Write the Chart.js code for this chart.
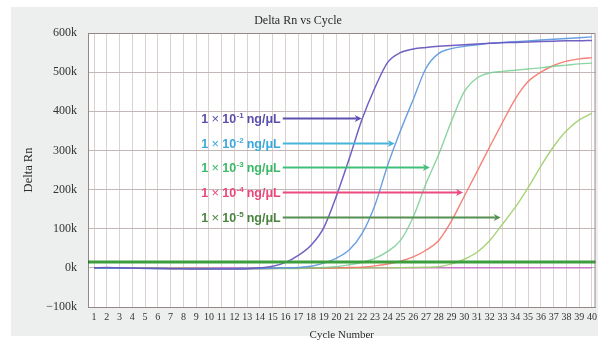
<!DOCTYPE html>
<html>
<head>
<meta charset="utf-8">
<script src="https://cdn.jsdelivr.net/npm/chart.js@4/dist/chart.umd.min.js"></script>
<style>
  html, body { margin: 0; padding: 0; background: #ffffff; }
  canvas { display: block; }
</style>
</head>
<body>
<canvas id="chart" width="601" height="350"></canvas>
<script>
// Amplification curves: Delta Rn per PCR cycle for a 10-fold dilution series
const cycles = [1, 2, 3, 4, 5, 6, 7, 8, 9, 10, 11, 12, 13, 14, 15, 16, 17, 18, 19, 20,
                21, 22, 23, 24, 25, 26, 27, 28, 29, 30, 31, 32, 33, 34, 35, 36, 37, 38, 39, 40];

const dil1 = [0, 1000, 0, -500, -1000, -1500, -2000, -2500, -3000, -3000, -3000, -3000, -2000, 0,
              4000, 14000, 32000, 58000, 103000, 185000, 280000, 380000, 460000, 525000, 550000,
              559000, 563000, 566000, 568000, 570000, 572000, 574000, 575000, 576000, 577000,
              578000, 579000, 580000, 580000, 581000];

const dil2 = [0, -1000, -1000, -1000, -1500, -1500, -2000, -2000, -2000, -2000, -2000, -2000, -1500,
              -1500, -1000, 0, 1000, 4000, 12000, 25000, 46000, 88000, 160000, 262000, 350000,
              430000, 510000, 548000, 560000, 566000, 570000, 574000, 576000, 578000, 580000,
              582000, 584000, 586000, 588000, 590000];

const dil3 = [0, -500, -1000, -1000, -1000, -1500, -1500, -1500, -2000, -2000, -2000, -2000, -1500,
              -1500, -1000, -1000, -500, 0, 1000, 3000, 8000, 14000, 24000, 42000, 70000, 130000,
              215000, 290000, 375000, 450000, 485000, 498000, 502000, 505000, 508000, 511000,
              515000, 518000, 521000, 523000];

const dil4 = [0, -500, -500, -1000, -1000, -1000, -1500, -1500, -1500, -2000, -2000, -2000, -2000,
              -1500, -1500, -1000, -1000, -500, -500, 0, 1000, 2000, 5000, 10000, 17000, 28000,
              45000, 70000, 120000, 183000, 246000, 310000, 372000, 432000, 476000, 500000,
              517000, 528000, 534000, 537000];

const dil5 = [0, -500, -500, -1000, -1000, -1000, -1500, -1500, -1500, -1500, -2000, -2000, -2000,
              -2000, -1500, -1500, -1500, -1000, -1000, -1000, -500, -500, 0, 0, 500, 1000, 1500,
              3000, 10000, 22000, 40000, 70000, 112000, 155000, 205000, 260000, 310000, 350000,
              378000, 395000];

const baseline = [0, 0, 0, 0, 0, 0, 0, 0, 0, 0, 0, 0, 0, 0, 0, 0, 0, 0, 0, 0,
                  0, 0, 0, 0, 0, 0, 0, 0, 0, 0, 0, 0, 0, 0, 0, 0, 0, 0, 0, 0];

const thresholdValue = 15000;

const yTicks = [-100000, 0, 100000, 200000, 300000, 400000, 500000, 600000];

// Dilution labels with arrows pointing at their curves
const labelExponents = [-1, -2, -3, -4, -5];
const labelValues = [384000, 319000, 258000, 194000, 130000];
const labelStartCycle = 9.4;
const arrowEndCycles = [21.97, 24.55, 27.3, 29.9, 32.85];
const labelColors = ['#5a4fab', '#3aa8da', '#3cb866', '#ea4679', '#4a843f'];
const arrowColors = ['#5c50b2', '#48b4dc', '#40bf78', '#ec4b80', '#54904f'];

const X_MIN = 0.53, X_MAX = 40.28;

const pts = arr => cycles.map((c, i) => ({ x: c, y: arr[i] }));

const curveStyle = (color, w) => ({
  borderColor: color, borderWidth: w, pointRadius: 0, fill: false,
  cubicInterpolationMode: 'monotone', order: 1
});

const panelPlugin = {
  id: 'panel',
  beforeDraw(chart) {
    const { ctx, chartArea: a } = chart;
    ctx.save();
    ctx.fillStyle = '#ffffff';
    ctx.fillRect(0, 0, chart.width, chart.height);
    ctx.fillStyle = '#edeeee';
    ctx.fillRect(11, 7, 587, 329);
    ctx.fillStyle = '#ffffff';
    ctx.fillRect(a.left, a.top, a.right - a.left, a.bottom - a.top);
    ctx.restore();
  },
  afterDraw(chart) {
    const { ctx, chartArea: a } = chart;
    ctx.save();
    ctx.strokeStyle = '#968686';
    ctx.lineWidth = 1;
    ctx.beginPath();
    ctx.moveTo(a.left, a.top + 0.5);
    ctx.lineTo(a.right - 0.5, a.top + 0.5);
    ctx.lineTo(a.right - 0.5, a.bottom);
    ctx.stroke();
    ctx.restore();
  }
};

function drawDilutionLabel(ctx, x, y, exp, color) {
  const big = 'bold 12.5px "Liberation Sans", Arial, sans-serif';
  const times = '13px "Liberation Sans", Arial, sans-serif';
  const small = 'bold 8px "Liberation Sans", Arial, sans-serif';
  ctx.fillStyle = color;
  ctx.textBaseline = 'middle';
  ctx.textAlign = 'left';
  ctx.font = big;
  ctx.fillText('1', x, y);
  x += ctx.measureText('1').width + 1;
  ctx.font = times;
  ctx.textAlign = 'center';
  ctx.fillText('\u00d7', x + 6, y);
  x += 13;
  ctx.textAlign = 'left';
  ctx.font = big;
  ctx.fillText('10', x, y);
  x += ctx.measureText('10').width + 0.5;
  ctx.font = small;
  const sup = '-' + Math.abs(exp);
  ctx.fillText(sup, x, y - 4);
  x += ctx.measureText(sup).width + 3;
  ctx.font = big;
  ctx.fillText('ng/\u03bcL', x, y);
  x += ctx.measureText('ng/\u03bcL').width;
  return x;
}

const labelPlugin = {
  id: 'dilutionLabels',
  afterDatasetsDraw(chart) {
    const { ctx, scales: { x, y } } = chart;
    ctx.save();
    labelExponents.forEach((exp, i) => {
      const py = Math.round(y.getPixelForValue(labelValues[i])) + 0.5;
      const startX = x.getPixelForValue(labelStartCycle);
      const textEnd = drawDilutionLabel(ctx, startX, py + 1, exp, labelColors[i]);
      const endX = x.getPixelForValue(arrowEndCycles[i]);
      ctx.strokeStyle = arrowColors[i];
      ctx.fillStyle = arrowColors[i];
      ctx.lineWidth = 2;
      ctx.beginPath();
      ctx.moveTo(textEnd + 2, py);
      ctx.lineTo(endX - 5, py);
      ctx.stroke();
      ctx.beginPath();
      ctx.moveTo(endX, py);
      ctx.lineTo(endX - 7, py - 3.5);
      ctx.lineTo(endX - 5, py);
      ctx.lineTo(endX - 7, py + 3.5);
      ctx.closePath();
      ctx.fill();
    });
    ctx.restore();
  }
};

const serif = '"Liberation Serif", "Times New Roman", serif';

new Chart(document.getElementById('chart'), {
  type: 'line',
  data: {
    datasets: [
      { label: 'threshold', data: [{ x: X_MIN, y: thresholdValue }, { x: X_MAX, y: thresholdValue }],
        borderColor: '#3c9e3c', borderWidth: 3, fill: false, order: 0,
        pointRadius: 1.8, pointStyle: 'rect', pointBackgroundColor: '#2f6a2f', pointBorderWidth: 0 },
      Object.assign({ label: '1\u00d710-1 ng/\u03bcL', data: pts(dil1) }, curveStyle('rgba(104,88,192,0.95)', 1.5)),
      Object.assign({ label: '1\u00d710-2 ng/\u03bcL', data: pts(dil2) }, curveStyle('rgba(88,150,222,0.9)', 1.4)),
      Object.assign({ label: '1\u00d710-3 ng/\u03bcL', data: pts(dil3) }, curveStyle('rgba(120,204,145,0.85)', 1.4)),
      Object.assign({ label: '1\u00d710-4 ng/\u03bcL', data: pts(dil4) }, curveStyle('rgba(244,116,104,0.9)', 1.4)),
      Object.assign({ label: '1\u00d710-5 ng/\u03bcL', data: pts(dil5) }, curveStyle('rgba(160,206,108,0.9)', 1.4)),
      { label: 'baseline', data: pts(baseline), borderColor: '#c97bc9', borderWidth: 1.5,
        pointRadius: 0, fill: false, order: 2 }
    ]
  },
  options: {
    responsive: false,
    devicePixelRatio: 1,
    animation: false,
    events: [],
    layout: { padding: { left: 0, right: 5, top: 0, bottom: 8.4 } },
    plugins: {
      legend: { display: false },
      tooltip: { enabled: false },
      title: {
        display: true,
        text: 'Delta Rn vs Cycle',
        color: '#2a2a2a',
        font: { family: serif, size: 12, weight: 'normal', lineHeight: 1.2 },
        padding: { top: 13.8, bottom: 4.8 }
      }
    },
    scales: {
      x: {
        type: 'linear',
        min: X_MIN,
        max: X_MAX,
        afterBuildTicks: s => { s.ticks = cycles.map(v => ({ value: v })); },
        afterFit: s => { s.height = 34.6; },
        grid: { color: '#dcd1d1', lineWidth: 1, drawTicks: false },
        border: { color: '#968686', width: 1 },
        ticks: {
          autoSkip: false, maxRotation: 0, padding: 4,
          color: '#333333',
          font: { family: serif, size: 10 },
          callback: v => String(v)
        },
        title: {
          display: true, text: 'Cycle Number', color: '#2a2a2a',
          font: { family: serif, size: 11, lineHeight: 1.2 },
          padding: { top: 0, bottom: 0 }
        }
      },
      y: {
        min: -100000,
        max: 600000,
        afterBuildTicks: s => { s.ticks = yTicks.map(v => ({ value: v })); },
        afterFit: s => { s.width = 88; },
        grid: { color: '#c4b7b7', lineWidth: 1, drawTicks: false },
        border: { color: '#968686', width: 1 },
        ticks: {
          padding: 11,
          color: '#333333',
          font: { family: serif, size: 12 },
          callback: v => (v < 0 ? '\u2212' + Math.abs(v / 1000) : v / 1000) + 'k'
        },
        title: {
          display: true, text: 'Delta Rn', color: '#2a2a2a',
          font: { family: serif, size: 12.5, lineHeight: 1.2 },
          padding: { top: 21.5, bottom: 0 }
        }
      }
    }
  },
  plugins: [panelPlugin, labelPlugin]
});
</script>
</body>
</html>
